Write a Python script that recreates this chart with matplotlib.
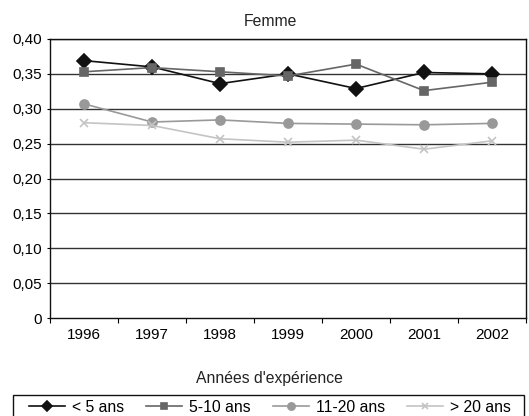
import matplotlib
matplotlib.use('Agg')
import matplotlib.pyplot as plt
from matplotlib.ticker import FixedLocator
from matplotlib.patches import Rectangle

plt.rcParams['font.family'] = ['Liberation Sans', 'DejaVu Sans']

# annees et series
annees = ['1996', '1997', '1998', '1999', '2000', '2001', '2002']
moins_5 = [0.369, 0.360, 0.336, 0.350, 0.329, 0.352, 0.350]
de_5_10 = [0.353, 0.359, 0.353, 0.347, 0.364, 0.326, 0.338]
de_11_20 = [0.307, 0.281, 0.284, 0.279, 0.278, 0.277, 0.279]
plus_20 = [0.280, 0.276, 0.257, 0.252, 0.255, 0.242, 0.254]

etiquettes = ['< 5 ans', '5-10 ans', '11-20 ans', '> 20 ans']
series = [moins_5, de_5_10, de_11_20, plus_20]
couleurs = ['#111111', '#666666', '#999999', '#c4c4c4']
marqueurs = ['D', 's', 'o', 'x']
tailles = [7, 6, 6.5, 6]

W, H = 529, 416
fig = plt.figure(figsize=(W / 100, H / 100), dpi=100)
ax = fig.add_axes([50 / W, 1 - 318 / H, 476 / W, 279 / H])

x = range(len(annees))
for val, lab, c, m, s in zip(series, etiquettes, couleurs, marqueurs, tailles):
    ax.plot(x, val, color=c, marker=m, markersize=s, linewidth=1.2,
            markeredgecolor=c, markerfacecolor=c, markeredgewidth=1.2,
            label=lab, zorder=3)

ax.set_xlim(-0.5, len(annees) - 0.5)
ax.set_ylim(0, 0.40)

yt = [i * 0.05 for i in range(9)]
ax.set_yticks(yt)
ax.set_yticklabels(['0'] + [('%.2f' % v).replace('.', ',') for v in yt[1:]])
for v in yt[1:]:
    ax.axhline(v, color='#333333', linewidth=1.0, zorder=1)

ax.set_xticks(list(x))
ax.set_xticklabels(annees)
ax.xaxis.set_minor_locator(FixedLocator([i - 0.5 for i in range(len(annees) + 1)]))
ax.tick_params(axis='x', which='major', length=0, pad=7.5, labelsize=11)
ax.tick_params(axis='x', which='minor', length=3.5, direction='out', width=0.8)
ax.tick_params(axis='y', length=2.5, direction='out', width=0.8, labelsize=11, pad=3)

for sp in ax.spines.values():
    sp.set_linewidth(1.0)
    sp.set_color('#111111')

fig.text(270 / W, 1 - 21 / H, 'Femme', ha='center', va='center', fontsize=11.3, color='#222222')
fig.text(269 / W, 1 - 378 / H, "Années d'expérience", ha='center', va='center',
         fontsize=11.3, color='#222222')

# cadre de la legende (coupe en bas comme l'original)
fig.patches.append(Rectangle((13 / W, -0.05), 511 / W, 0.05 + 1 - 395 / H,
                             transform=fig.transFigure, fill=False,
                             edgecolor='#111111', linewidth=1.0))

leg = fig.legend(loc='center', bbox_to_anchor=(270 / W, 1 - 407 / H), ncol=4,
                 fontsize=11.3, frameon=False, handlelength=2.3, handletextpad=0.45,
                 columnspacing=1.4, borderpad=0, markerscale=0.8)

fig.savefig('out.png', dpi=100)
